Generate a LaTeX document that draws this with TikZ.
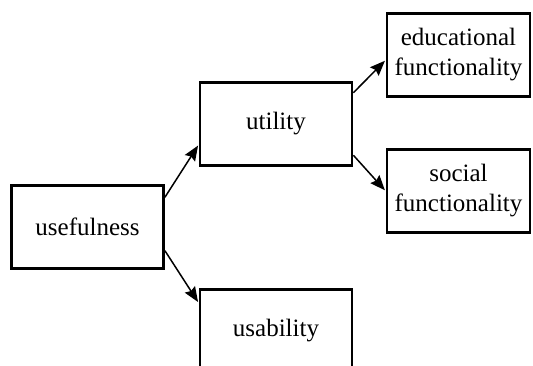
\documentclass[tikz,border=0pt]{standalone}
\usepackage{fontspec}
\setmainfont{Liberation Serif}
\usetikzlibrary{arrows.meta}
\begin{document}
\begin{tikzpicture}[x=1pt,y=-1pt,
  box/.style={draw=black, line width=2.8pt, rectangle, minimum width=#1, minimum height=83pt, inner sep=0pt, align=center, font=\fontsize{25}{30}\selectfont},
  box/.default=152pt,
  arr/.style={line width=1.5pt, -{Stealth[length=15pt,width=12pt,inset=2pt]}, shorten >=1pt}]
\useasboundingbox (0,0) rectangle (533,366);
\clip (0,0) rectangle (533,366);
\node[box] (use) at (87.5,227) {usefulness};
\node[box] (util) at (276,124) {utility};
\node[box=143pt] (edu) at (458.5,55) {educational\\functionality};
\node[box=143pt] (soc) at (458.5,191) {social\\functionality};
\node[box] (usa) at (276,331) {usability};
\draw[arr] (use.21) -- (util.195);
\draw[arr] (use.-17) -- (usa.160);
\draw[arr] (util.22) -- (edu.184);
\draw[arr] (util.-22) -- (soc.180);
\end{tikzpicture}
\end{document}
